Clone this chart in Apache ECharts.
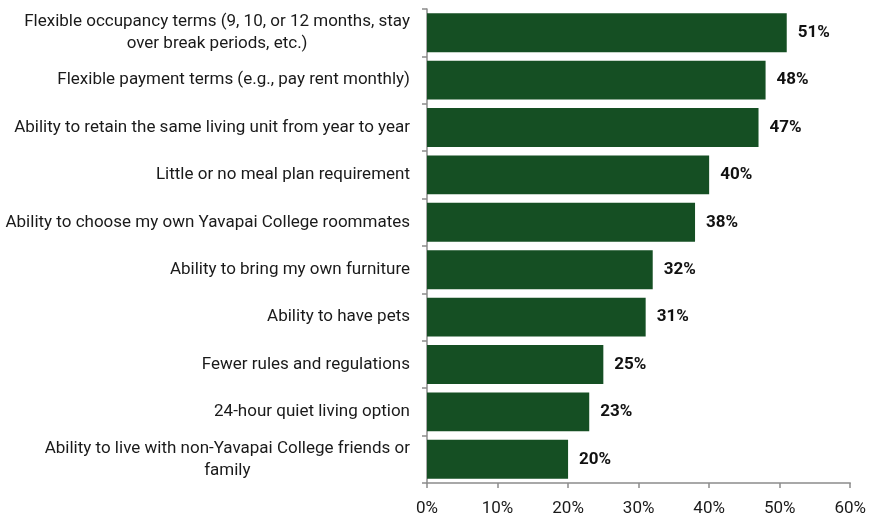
<!DOCTYPE html>
<html>
<head>
<meta charset="utf-8">
<script src="https://cdn.jsdelivr.net/npm/echarts@6/dist/echarts.min.js"></script>
<style>
  html, body { margin: 0; padding: 0; background: #fff; }
  #chart { width: 869px; height: 519px; }
</style>
</head>
<body>
<div id="chart"></div>
<script>
// Housing features students rated as important (share of respondents, %)
const categories = [
  'Flexible occupancy terms (9, 10, or 12 months, stay\nover break periods, etc.)',
  'Flexible payment terms (e.g., pay rent monthly)',
  'Ability to retain the same living unit from year to year',
  'Little or no meal plan requirement',
  'Ability to choose my own Yavapai College roommates',
  'Ability to bring my own furniture',
  'Ability to have pets',
  'Fewer rules and regulations',
  '24-hour quiet living option',
  'Ability to live with non-Yavapai College friends or\nfamily'
];
const values = [51, 48, 47, 40, 38, 32, 31, 25, 23, 20];
const xTicks = [0, 10, 20, 30, 40, 50, 60];

const FONT = '"Liberation Sans Narrow", "Arial Narrow", "Roboto", sans-serif';
const chart = echarts.init(document.getElementById('chart'), null, { renderer: 'canvas' });

chart.setOption({
  animation: false,
  backgroundColor: '#ffffff',
  grid: { left: 427, right: 17, top: 9, bottom: 36, containLabel: false },
  xAxis: {
    type: 'value',
    min: xTicks[0],
    max: xTicks[xTicks.length - 1],
    interval: 10,
    axisLine: { show: true, lineStyle: { color: '#8c8c8c', width: 1.5 } },
    axisTick: { show: true, length: 5, lineStyle: { color: '#8c8c8c', width: 1.5 } },
    splitLine: { show: false },
    axisLabel: {
      margin: 17,
      fontFamily: FONT,
      fontSize: 17,
      color: '#1a1a1a',
      formatter: v => v + '%'
    }
  },
  yAxis: {
    type: 'category',
    data: categories,
    inverse: true,
    axisLine: { show: true, lineStyle: { color: '#8c8c8c', width: 1.5 } },
    axisTick: { show: true, length: 5, lineStyle: { color: '#8c8c8c', width: 1.5 } },
    axisLabel: {
      margin: 17,
      fontFamily: FONT,
      fontSize: 17,
      color: '#1a1a1a',
      lineHeight: 22,
      formatter: s => s.split('\n').map(line => '{c|' + line + '}').join('\n'),
      rich: {
        c: { align: 'center', fontFamily: FONT, fontSize: 17, color: '#1a1a1a', lineHeight: 22 }
      }
    }
  },
  series: [{
    type: 'bar',
    data: values,
    barCategoryGap: '18%',
    itemStyle: { color: '#154f23' },
    label: {
      show: true,
      position: 'right',
      distance: 11,
      fontFamily: FONT,
      fontSize: 17,
      fontWeight: 'bold',
      color: '#111',
      formatter: p => p.value + '%'
    }
  }]
});
</script>
</body>
</html>
